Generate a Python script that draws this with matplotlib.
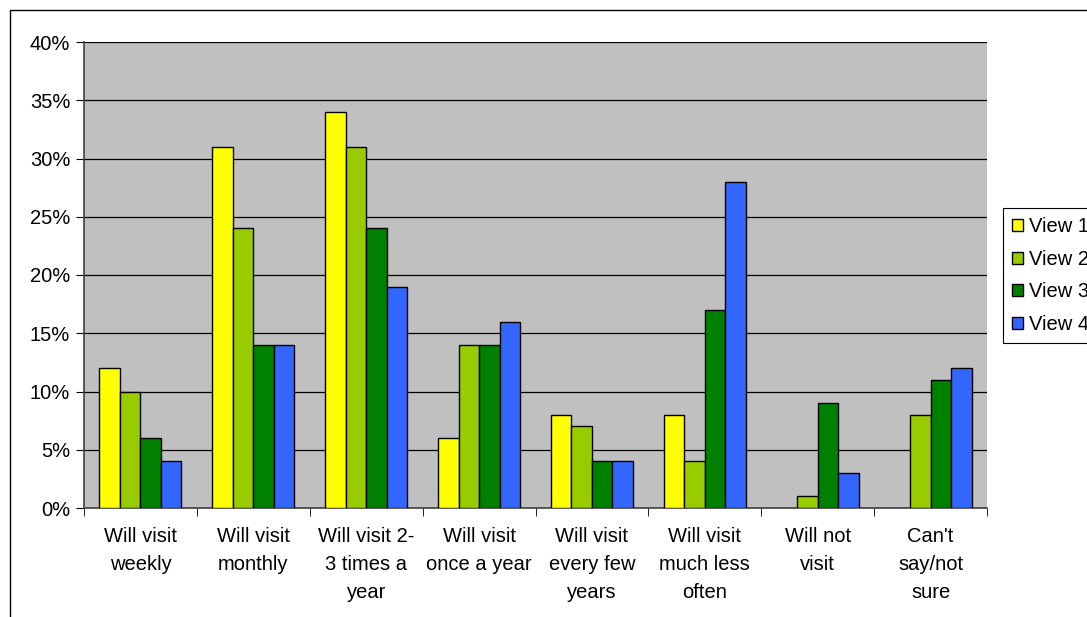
import numpy as np
import matplotlib.pyplot as plt
from matplotlib.patches import Rectangle

plt.rcParams['font.family'] = ['Liberation Sans', 'DejaVu Sans']

# Datos (porcentajes)
categorias = ["Will visit\nweekly", "Will visit\nmonthly", "Will visit 2-\n3 times a\nyear",
              "Will visit\nonce a year", "Will visit\nevery few\nyears",
              "Will visit\nmuch less\noften", "Will not\nvisit", "Can't\nsay/not\nsure"]
view1 = [12, 31, 34, 6, 8, 8, 0, 0]
view2 = [10, 24, 31, 14, 7, 4, 1, 8]
view3 = [6, 14, 24, 14, 4, 17, 9, 11]
view4 = [4, 14, 19, 16, 4, 28, 3, 12]
series = [view1, view2, view3, view4]
nombres = ["View 1", "View 2", "View 3", "View 4"]
colores = ["#FFFF00", "#99CC00", "#008000", "#3366FF"]

fs = 14.5

fig = plt.figure(figsize=(10.87, 6.17), dpi=100)
ax = fig.add_axes([84/1087, 1 - 508/617, (987-84)/1087, (508-42)/617])
ax.set_facecolor("#C0C0C0")

x = np.arange(len(categorias))
w = 1 / 5.5
handles = []
for i, (vals, col) in enumerate(zip(series, colores)):
    bordes = ["black" if v > 0 else "none" for v in vals]
    b = ax.bar(x + (i - 1.5) * w, vals, width=w, color=col, edgecolor=bordes,
               linewidth=1, zorder=3)
    handles.append(b)

ax.set_xlim(-0.5, len(categorias) - 0.5)
ax.set_ylim(0, 40)
ax.set_yticks(np.arange(0, 41, 5))
ax.set_yticklabels([f"{v}%" for v in range(0, 41, 5)], fontsize=fs)
ax.yaxis.grid(True, color="black", linewidth=0.9, zorder=1)
ax.set_axisbelow(True)

ax.set_xticks(x)
ax.set_xticklabels(categorias, fontsize=fs, linespacing=1.57)
ax.tick_params(axis="x", which="major", length=0, pad=14)
ax.set_xticks(np.arange(-0.5, len(categorias)), minor=True)
ax.tick_params(axis="x", which="minor", length=6, color="black", direction="out")
ax.tick_params(axis="y", length=6, color="black", direction="out", pad=4)

for s in ["top", "right"]:
    ax.spines[s].set_visible(False)
for s in ["left", "bottom"]:
    ax.spines[s].set_color("#404040")
    ax.spines[s].set_linewidth(1.2)

leg = fig.legend([h[0] for h in handles], nombres, loc="upper left",
                 bbox_to_anchor=(1003/1087, 1 - 208/617), fontsize=fs,
                 handlelength=0.55, handleheight=0.55, handletextpad=0.3,
                 labelspacing=0.68, borderpad=0.45, borderaxespad=0,
                 fancybox=False, edgecolor="black", framealpha=1)
leg.get_frame().set_linewidth(0.8)

# borde exterior del grafico
fig.patches.append(Rectangle((9.5/1087, -0.1), 1.2, 1.1 - 9.5/617,
                             transform=fig.transFigure, fill=False,
                             edgecolor="black", linewidth=1))

fig.savefig("out.png", dpi=100)
